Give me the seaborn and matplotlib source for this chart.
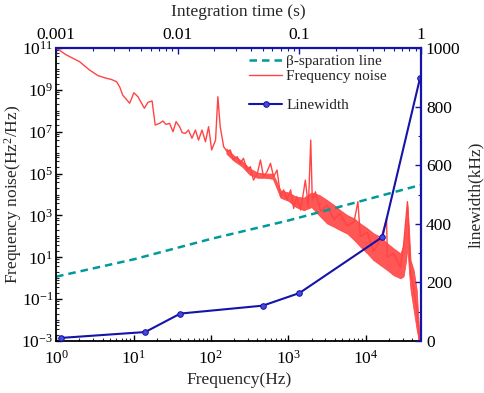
import matplotlib
matplotlib.use("Agg")
import numpy as np
import matplotlib.pyplot as plt
import seaborn as sns
from matplotlib.ticker import LogLocator, FixedLocator, LogFormatterSciNotation, NullFormatter, FixedFormatter, MultipleLocator

# frequency noise spectrum (log10 values)
noise_logf = [0.02, 0.13, 0.30, 0.43, 0.54, 0.65, 0.71, 0.78, 0.82, 0.86, 0.95, 1.005, 1.057, 1.14,
              1.186, 1.24, 1.28, 1.336, 1.38, 1.42, 1.466, 1.51, 1.55, 1.595, 1.63, 1.67, 1.71, 1.755,
              1.80, 1.84, 1.885, 1.93, 1.97, 2.01, 2.06, 2.09, 2.12, 2.165, 2.21, 2.25, 2.29, 2.34,
              2.38, 2.42, 2.47, 2.51, 2.55, 2.60, 2.64, 2.68, 2.725, 2.77, 2.81, 2.855, 2.90, 2.94,
              2.985, 3.03, 3.07, 3.11, 3.16, 3.20, 3.22, 3.26, 3.29, 3.31, 3.35, 3.42, 3.50, 3.59,
              3.67, 3.76, 3.85, 3.90, 3.93, 4.02, 4.10, 4.19, 4.27, 4.28, 4.36, 4.45, 4.49, 4.54,
              4.56, 4.58, 4.62, 4.66, 4.69]
noise_logS = [10.95, 10.67, 10.35, 9.95, 9.68, 9.55, 9.50, 9.39, 9.15, 8.75, 8.36, 8.86, 8.67, 8.12,
              8.40, 8.47, 7.32, 7.40, 7.51, 7.35, 7.40, 7.00, 7.48, 7.24, 6.95, 6.92, 7.08, 6.69,
              7.08, 6.60, 7.08, 6.52, 7.24, 6.13, 6.60, 8.67, 7.24, 6.28, 6.05, 6.13, 5.65, 5.81,
              5.49, 5.73, 5.17, 5.33, 4.69, 5.01, 5.65, 4.85, 5.09, 5.49, 4.85, 5.17, 3.90, 4.22,
              3.74, 4.22, 3.34, 3.90, 3.26, 4.20, 4.69, 3.42, 6.60, 3.74, 4.13, 3.20, 3.50, 2.80,
              3.10, 2.50, 2.70, 3.66, 2.00, 2.20, 1.30, 1.80, 2.86, 1.00, 1.20, 0.50, 1.60, 3.66,
              2.00, 0.30, -0.50, -1.50, -2.95]

# dense noise band (upper / lower envelope, log10)
band_logf = [2.20, 2.30, 2.40, 2.50, 2.60, 2.70, 2.80, 2.90, 3.00, 3.10, 3.20, 3.30, 3.40, 3.50,
             3.59, 3.67, 3.76, 3.85, 3.93, 4.02, 4.10, 4.19, 4.28, 4.36, 4.45, 4.49, 4.52, 4.54,
             4.56, 4.58, 4.62, 4.66, 4.69]
band_hi = [6.20, 5.85, 5.60, 5.25, 5.05, 5.00, 5.00, 4.20, 4.10, 3.90, 3.85, 4.10, 3.98, 3.74,
           3.50, 3.26, 3.02, 2.86, 2.62, 2.39, 2.15, 1.98, 1.67, 1.43, 1.19, 1.60, 2.80, 3.50,
           2.30, 0.87, 0.39, -0.56, -2.50]
band_lo = [5.95, 5.60, 5.35, 4.95, 4.80, 4.80, 4.75, 3.85, 3.70, 3.40, 3.25, 3.40, 3.00, 2.62,
           2.46, 2.30, 2.14, 1.83, 1.51, 1.19, 0.87, 0.63, 0.39, 0.15, 0.00, 0.10, 0.80, 1.50,
           0.30, -0.56, -1.52, -2.47, -3.00]

# beta-separation line
beta_freq = [1, 10, 100, 1000, 1e4, 5.2e4]
beta_noise = [1.2, 8, 76, 575, 5600, 29000]

# linewidth vs integration time
int_time = [0.0011, 0.0054, 0.0105, 0.05, 0.1, 0.48, 0.98]
linewidth = [11, 31, 94, 121, 164, 355, 897]

blue = "#1414a8"
red = "#ff4444"
teal = "#009a9a"

sns.set_theme(style="ticks")
plt.rcParams["font.family"] = ["Liberation Serif", "DejaVu Serif"]
plt.rcParams["mathtext.fontset"] = "custom"
plt.rcParams["mathtext.rm"] = "Liberation Serif"
plt.rcParams["mathtext.it"] = "Liberation Serif:italic"
plt.rcParams["xtick.direction"] = "in"
plt.rcParams["ytick.direction"] = "in"

fig = plt.figure(figsize=(4.84, 3.93), dpi=100)
rect = [0.116, 0.132, 0.754, 0.746]
ax = fig.add_axes(rect)
ax2 = fig.add_axes(rect, facecolor="none")

nf = 10 ** np.array(noise_logf)
ns = 10 ** np.array(noise_logS)
bf = 10 ** np.array(band_logf)
ax.fill_between(bf, 10 ** np.array(band_lo), 10 ** np.array(band_hi), color=red, lw=0.6, alpha=0.9)
sns.lineplot(x=nf, y=ns, ax=ax, color=red, lw=1.0, estimator=None, sort=False)
noise_h = ax.lines[-1]
sns.lineplot(x=beta_freq, y=beta_noise, ax=ax, color=teal, lw=1.8, estimator=None)
beta_h = ax.lines[-1]
beta_h.set_dashes((3, 2))

ax.set_xscale("log")
ax.set_yscale("log")
ax.set_xlim(1, 5.2e4)
ax.set_ylim(1e-3, 1e11)
ax.set_xlabel("Frequency(Hz)", fontsize=12.5, labelpad=3)
ax.set_ylabel("Frequency noise(Hz$^2$/Hz)", fontsize=12.5)
ax.yaxis.set_label_coords(-0.088, 0.5)
ax.yaxis.set_major_locator(FixedLocator([10.0 ** e for e in range(-3, 12, 2)]))
ax.yaxis.set_major_formatter(LogFormatterSciNotation())
ax.yaxis.set_minor_locator(LogLocator(base=10, subs=(1.0, 2.0, 4.0, 6.0, 8.0), numticks=60))
ax.yaxis.set_minor_formatter(NullFormatter())
ax.xaxis.set_minor_locator(LogLocator(base=10, subs=np.arange(2, 10), numticks=20))
ax.tick_params(labelsize=12.5, colors="black", length=4, width=1)
ax.tick_params(axis="x", pad=6)
ax.tick_params(axis="y", pad=2)
ax.tick_params(which="minor", length=2.5, width=0.8)
for s in ["top", "right"]:
    ax.spines[s].set_visible(False)
for s in ["left", "bottom"]:
    ax.spines[s].set_linewidth(1.3)
    ax.spines[s].set_color("black")

sns.lineplot(x=int_time, y=linewidth, ax=ax2, color=blue, lw=1.5, marker="o", markersize=4,
             markerfacecolor="#4848e0", markeredgecolor=blue, estimator=None)
lw_h = ax2.lines[-1]
ax2.set_xscale("log")
ax2.set_xlim(1e-3, 1)
ax2.set_ylim(0, 1000)
ax2.xaxis.tick_top()
ax2.xaxis.set_label_position("top")
ax2.yaxis.tick_right()
ax2.yaxis.set_label_position("right")
ax2.set_xlabel("Integration time (s)", fontsize=12.5, labelpad=8)
ax2.set_ylabel("linewidth(kHz)", fontsize=12.5, labelpad=5)
ax2.xaxis.set_major_locator(FixedLocator([0.001, 0.01, 0.1, 1]))
ax2.xaxis.set_major_formatter(FixedFormatter(["0.001", "0.01", "0.1", "1"]))
ax2.xaxis.set_minor_locator(LogLocator(base=10, subs=np.arange(2, 10), numticks=20))
ax2.xaxis.set_minor_formatter(NullFormatter())
ax2.yaxis.set_major_locator(MultipleLocator(200))
ax2.yaxis.set_minor_locator(MultipleLocator(100))
ax2.tick_params(labelsize=12.5, color=blue, labelcolor="black", length=4, width=1)
ax2.tick_params(which="minor", color=blue, length=2.5, width=0.8)
for s in ["left", "bottom"]:
    ax2.spines[s].set_visible(False)
for s in ["top", "right"]:
    ax2.spines[s].set_color(blue)
    ax2.spines[s].set_linewidth(1.6)

leg1 = ax2.legend([beta_h, noise_h], ["\u03b2-sparation line", "Frequency noise"],
                  loc="upper left", bbox_to_anchor=(0.49, 1.025), frameon=False, fontsize=11,
                  handlelength=2.2, handletextpad=0.25, labelspacing=0.1)
ax2.add_artist(leg1)
ax2.legend([lw_h], ["Linewidth"], loc="upper left", bbox_to_anchor=(0.49, 0.875), frameon=False,
           fontsize=11, handlelength=2.2, handletextpad=0.25)

fig.savefig("out.png", dpi=100)
